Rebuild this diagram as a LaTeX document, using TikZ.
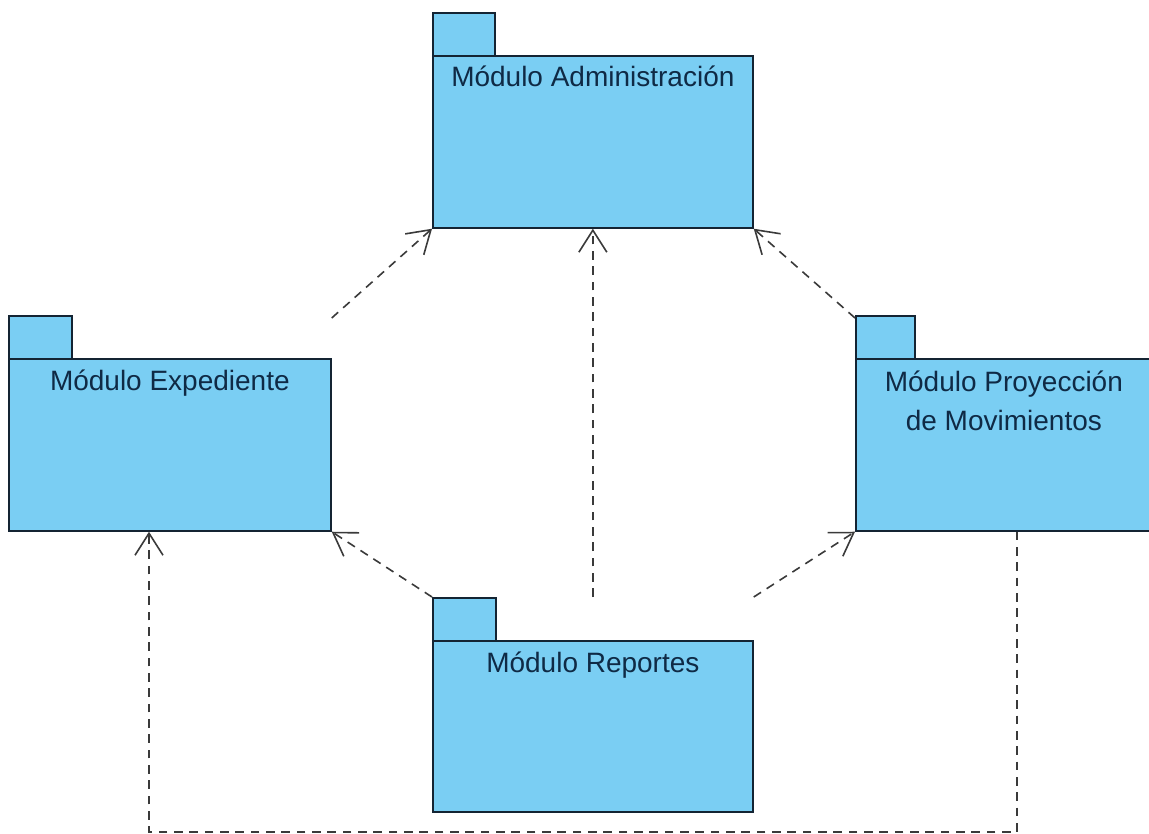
\documentclass[tikz,border=0pt]{standalone}
\usepackage{fontspec}
\setmainfont{Liberation Sans}
\usetikzlibrary{arrows.meta,calc}
\definecolor{pkgfill}{HTML}{7ACEF3}
\definecolor{pkgline}{HTML}{142433}
\definecolor{pkgtext}{HTML}{0F2A45}
\definecolor{depline}{HTML}{3A3A3A}
\begin{document}
\begin{tikzpicture}[x=0.75pt,y=-0.75pt,
  pkgbody/.style={draw=pkgline, fill=pkgfill, line width=1.3pt, rectangle, inner sep=0pt, anchor=north west, minimum height=129pt},
  pkgtab/.style={draw=pkgline, fill=pkgfill, line width=1.3pt, rectangle, inner sep=0pt, anchor=north west, minimum height=32.25pt},
  pkglabel/.style={text=pkgtext, font=\fontsize{21}{29.25}\selectfont, anchor=base, align=center, inner sep=0pt},
  dep/.style={draw=depline, line width=1.2pt, dash pattern=on 6.5pt off 5pt, -{Straight Barb[length=16.5pt,width=21pt,line width=1.2pt]}}
]
\useasboundingbox (0,0) rectangle (1149,834);
\fill[white] (0,0) rectangle (1149,834);
\clip (0,0) rectangle (1149,834);

% Modulo Administracion
\node[pkgtab, minimum width=46.5pt] (admtab) at (432,12) {};
\node[pkgbody, minimum width=240pt] (adm) at (432,55) {};
\node[pkglabel] (admtxt) at ($(adm.north)+(0,32)$) {Módulo Administración};

% Modulo Expediente
\node[pkgtab, minimum width=47.25pt] (exptab) at (8,315) {};
\node[pkgbody, minimum width=241.5pt] (exp) at (8,358) {};
\node[pkglabel] (exptxt) at ($(exp.north)+(0,32)$) {Módulo Expediente};

% Modulo Proyeccion de Movimientos
\node[pkgtab, minimum width=44.25pt] (proytab) at (855,315) {};
\node[pkgbody, minimum width=222pt] (proy) at (855,358) {};
\node[pkglabel] (proytxt) at ($(proy.north)+(0,72)$) {Módulo Proyección\\de Movimientos};

% Modulo Reportes
\node[pkgtab, minimum width=47.25pt] (reptab) at (432,597) {};
\node[pkgbody, minimum width=240pt, minimum height=128.25pt] (rep) at (432,640) {};
\node[pkglabel] (reptxt) at ($(rep.north)+(0,32)$) {Módulo Reportes};

% dependencies
\draw[dep] (exp.north east |- exptab.north) ++(0,3) -- (adm.south west);
\draw[dep] (rep.north |- reptab.north) -- (adm.south);
\draw[dep] (proytab.north west) ++(0,3) -- (adm.south east);
\draw[dep] (reptab.north west) -- (exp.south east);
\draw[dep] (rep.north east |- reptab.north) -- (proy.south west);

\coordinate (pstart) at ($(proy.south west)+(162,0)$);
\coordinate (eend) at ($(exp.south west)+(141,0)$);
\draw[dep] (pstart) -- (pstart |- 0,832) -- (eend |- 0,832) -- (eend);
\end{tikzpicture}
\end{document}
